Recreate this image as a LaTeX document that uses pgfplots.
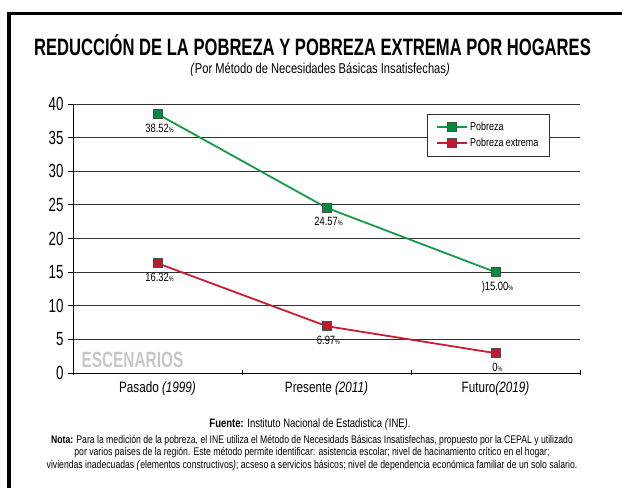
\documentclass[border=0pt]{standalone}
\usepackage{fontspec}
\setmainfont{Liberation Sans}[FakeStretch=0.78]
\newfontfamily\narrowfont{Liberation Sans}[FakeStretch=0.70]
\usepackage{pgfplots}
\pgfplotsset{compat=1.18}
\definecolor{gline}{RGB}{20,155,70}
\definecolor{gfill}{RGB}{0,140,60}
\definecolor{rline}{RGB}{200,30,50}
\definecolor{rfill}{RGB}{190,25,45}
\newcommand{\pc}{{\fontsize{7}{7}\selectfont\%}}
\begin{document}
\begin{tikzpicture}[x=1pt,y=1pt]
\useasboundingbox (0,0) rectangle (622,488);
\draw[line width=3.5pt] (9,0) -- (9,474.5) -- (622,474.5);
\node[font=\narrowfont\bfseries\fontsize{23.7}{26}\selectfont] at (312.5,443) {REDUCCIÓN DE LA POBREZA Y POBREZA EXTREMA POR HOGARES};
\node[font=\fontsize{14.3}{16}\selectfont] at (320,418) {\textit{(}Por Método de Necesidades Básicas Insatisfechas\textit{)}};
\begin{axis}[
  at={(73pt,115pt)}, anchor=south west,
  width=507pt, height=269pt, scale only axis,
  xmin=-0.5, xmax=2.5, ymin=0, ymax=40,
  axis x line=bottom, axis y line=left,
  axis line style={-, black, line width=0.9pt},
  xtick={-0.5,0.5,1.5,2.5}, xticklabels={},
  x tick style={black, line width=0.8pt},
  xtick align=center,
  extra x ticks={0,1,2},
  extra x tick labels={Pasado \textit{(1999)}, Presente \textit{(2011)}, Futuro\textit{(2019)}},
  extra x tick style={major tick length=0pt, tick label style={font=\fontsize{15}{16}\selectfont, yshift=-5pt}},
  ytick={0,5,...,40},
  ytick align=outside,
  y tick style={black, line width=0.8pt},
  major tick length=5pt,
  ymajorgrids, grid style={black!80, line width=0.9pt},
  yticklabel style={font=\narrowfont\fontsize{19}{19}\selectfont, xshift=-1pt},
  /pgf/number format/assume math mode=true,
  clip=false,
  nodes near coords, point meta=explicit symbolic,
  every node near coord/.append style={anchor=north, yshift=-6pt, xshift=2pt, font=\fontsize{12}{12}\selectfont, text=black},
  legend style={at={(0.698,0.963)}, anchor=north west, draw=black!80, line width=0.8pt,
    font=\fontsize{11.5}{12}\selectfont, inner xsep=9pt, inner ysep=6pt, row sep=2pt, cells={anchor=west}},
  legend image code/.code={\draw[mark repeat=2,mark phase=2] plot coordinates {(0pt,0pt)(15pt,0pt)(30pt,0pt)};},
]
\addplot[gline, line width=1.8pt, mark=square*, mark size=4.5pt, mark options={fill=gfill, draw=black!70, line width=0.7pt}]
  coordinates {(0,38.52) [38.52\pc] (1,24.57) [24.57\pc] (2,15.00) [)15.00\pc]};
\addlegendentry{Pobreza}
\addplot[rline, line width=1.8pt, mark=square*, mark size=4.5pt, mark options={fill=rfill, draw=black!70, line width=0.7pt}]
  coordinates {(0,16.32) [16.32\pc] (1,6.97) [6.97\pc] (2,2.95) [0\pc]};
\addlegendentry{Pobreza extrema}
\end{axis}
\node[anchor=west, font=\narrowfont\bfseries\fontsize{22}{22}\selectfont, text=black!22] at (78,128) {ESCENARIOS};
\node[font=\fontsize{12.2}{13}\selectfont] at (310,64) {\textbf{Fuente:} Instituto Nacional de Estadistica \textit{(}INE\textit{)}.};
\node[font=\fontsize{11.1}{12.5}\selectfont, align=center] at (312,35) {\textbf{Nota:} Para la medición de la pobreza, el INE utiliza el Método de Necesidads Básicas Insatisfechas, propuesto por la CEPAL y utilizado\\por varios países de la región. Este método permite identificar: asistencia escolar; nivel de hacinamiento crítico en el hogar;\\viviendas inadecuadas \textit{(}elementos constructivos\textit{)}; acseso a servicios básicos; nivel de dependencia económica familiar de un solo salario.};
\end{tikzpicture}
\end{document}
